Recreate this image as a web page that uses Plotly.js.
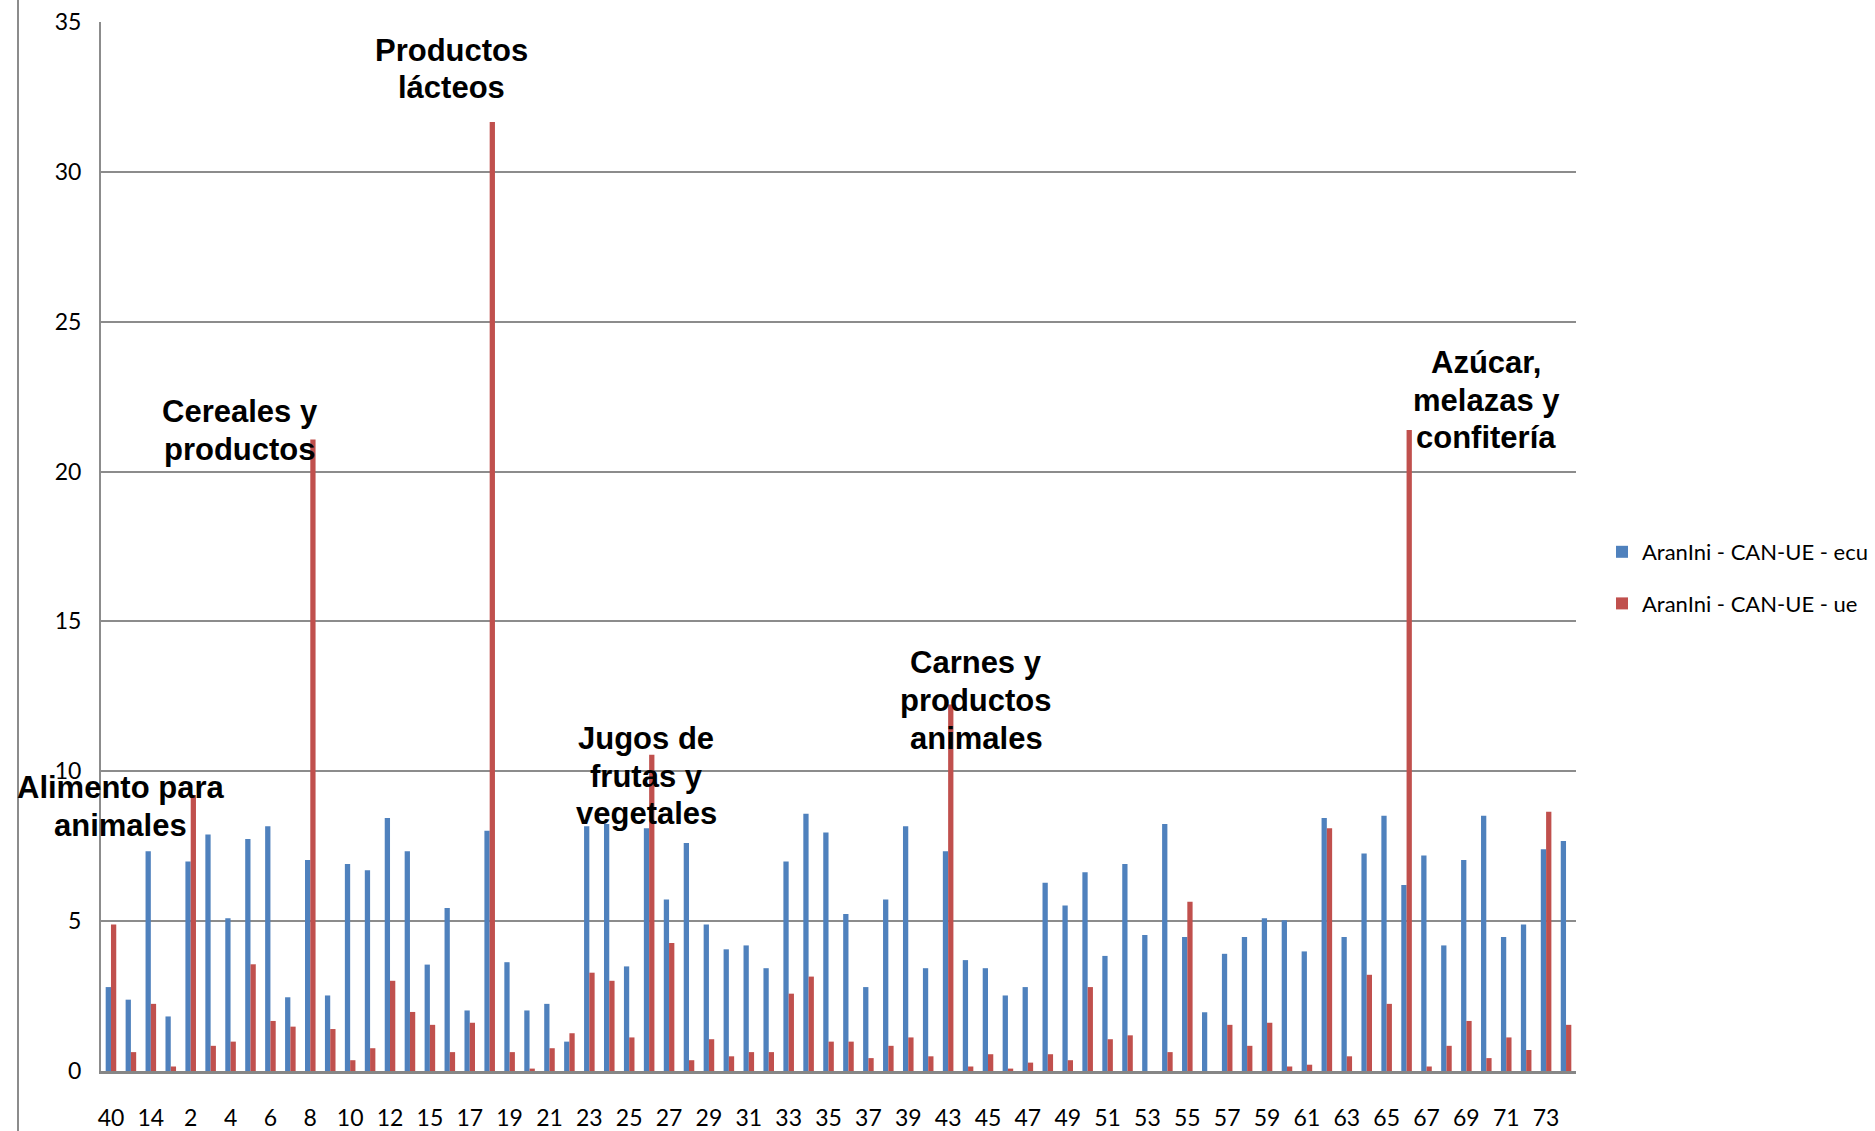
<!DOCTYPE html>
<html>
<head>
<meta charset="utf-8">
<script src="https://cdn.plot.ly/plotly-3.0.1.min.js"></script>
<style>html,body{margin:0;padding:0;background:#fff;}#chart{width:1875px;height:1131px;}</style>
</head>
<body>
<div id="chart"></div>
<script>
// Categories (product codes) in the order shown on the x axis
const categories = ["40","41","14","1","2","3","4","5","6","7","8","9","10","11","12","13","15","16","17","18",
  "19","20","21","22","23","24","25","26","27","28","29","30","31","32","33","34","35","36","37","38",
  "39","42","43","44","45","46","47","48","49","50","51","52","53","54","55","56","57","58","59","60",
  "61","62","63","64","65","66","67","68","69","70","71","72","73","74"];

// Series: AranIni - CAN-UE - ecu
const ecuValues = [2.80,2.38,7.33,1.82,6.99,7.89,5.10,7.74,8.17,2.46,7.04,2.52,6.91,6.70,8.44,7.33,3.55,5.44,2.02,8.02,
  3.63,2.02,2.24,0.98,8.17,8.24,3.49,8.10,5.72,7.61,4.89,4.06,4.19,3.43,6.99,8.58,7.96,5.24,2.80,5.72,
  8.17,3.43,7.33,3.70,3.43,2.52,2.80,6.28,5.52,6.63,3.84,6.91,4.54,8.24,4.47,1.96,3.91,4.47,5.10,5.03,
  3.99,8.44,4.47,7.26,8.52,6.21,7.19,4.19,7.04,8.52,4.47,4.89,7.40,7.67];

// Series: AranIni - CAN-UE - ue
const ueValues = [4.89,0.63,2.24,0.15,9.21,0.84,0.98,3.56,1.67,1.48,21.07,1.40,0.36,0.76,3.01,1.97,1.54,0.63,1.61,31.66,
  0.63,0.08,0.76,1.26,3.28,3.01,1.12,10.55,4.27,0.36,1.06,0.49,0.63,0.63,2.58,3.15,0.98,0.98,0.43,0.84,
  1.12,0.49,12.23,0.15,0.56,0.08,0.28,0.56,0.36,2.80,1.06,1.19,0,0.63,5.65,0,1.54,0.84,1.61,0.15,
  0.21,8.10,0.49,3.21,2.24,21.39,0.15,0.84,1.67,0.43,1.12,0.70,8.65,1.54];

const seriesNames = ["AranIni - CAN-UE - ecu", "AranIni - CAN-UE - ue"];
const seriesColors = ["#4F81BD", "#C0504D"];

// Every other category is labelled on the axis
const tickLabels = categories.filter((c, i) => i % 2 === 0);

const yTicks = [0,5,10,15,20,25,30,35];

// Group labels (text blocks, one entry per line) drawn over the chart
const groupLabels = [
  {lines: ["Productos", "lácteos"], px: 451, py: 50},
  {lines: ["Cereales y", "productos"], px: 240, py: 411},
  {lines: ["Alimento para", "animales"], px: 120, py: 787},
  {lines: ["Jugos de", "frutas y", "vegetales"], px: 646, py: 738},
  {lines: ["Carnes y", "productos", "animales"], px: 976, py: 662},
  {lines: ["Azúcar,", "melazas y", "confitería"], px: 1486, py: 362}
];
const lineStep = 38;

const W = 1875, H = 1131;
const L = 101, R = 299, T = 22, B = 60;
const pw = W - L - R, ph = H - T - B;
const toPX = px => (px - L) / pw;
const toPY = py => (H - B - py) / ph;

const tickFont = {family: "Lato, 'Open Sans', sans-serif", size: 23, color: "#000"};

const traces = [ecuValues, ueValues].map((vals, i) => ({
  type: "bar",
  x: categories,
  y: vals,
  name: seriesNames[i],
  legendgroup: "g" + i,
  marker: {color: seriesColors[i], line: {width: 0}},
  hoverinfo: "x+y+name"
}));

const annotations = [];
groupLabels.forEach(g => {
  g.lines.forEach((t, k) => {
    annotations.push({
      text: "<b>" + t + "</b>",
      xref: "paper", yref: "paper",
      x: toPX(g.px), y: toPY(g.py + k * lineStep),
      xanchor: "center", yanchor: "middle",
      showarrow: false,
      align: "center",
      font: {family: "'Liberation Sans', Arial, sans-serif", size: 31, color: "#000"}
    });
  });
});

const layout = {
  width: W, height: H,
  margin: {l: L, r: R, t: T, b: B, pad: 0, autoexpand: false},
  paper_bgcolor: "#fff",
  plot_bgcolor: "#fff",
  barmode: "group",
  bargap: 0.47,
  bargroupgap: 0,
  showlegend: true,
  legend: {
    x: toPX(1602), xanchor: "left",
    y: toPY(578), yanchor: "middle",
    font: {family: "Lato, 'Open Sans', sans-serif", size: 22, color: "#000"},
    tracegroupgap: 20,
    traceorder: "grouped",
    bgcolor: "rgba(0,0,0,0)"
  },
  xaxis: {
    type: "category",
    categoryorder: "array",
    categoryarray: categories,
    tickmode: "array",
    tickvals: tickLabels,
    ticktext: tickLabels,
    tickfont: tickFont,
    ticks: "",
    ticklabelstandoff: 24,
    showgrid: false,
    showline: true,
    linecolor: "#868686",
    linewidth: 3,
    zeroline: false,
    automargin: false,
    fixedrange: true
  },
  yaxis: {
    range: [0, 35],
    tickmode: "array",
    tickvals: yTicks,
    ticktext: yTicks.map(String),
    tickfont: tickFont,
    ticks: "",
    ticklabelstandoff: 13,
    showgrid: true,
    gridcolor: "#8c8c8c",
    gridwidth: 2,
    showline: true,
    linecolor: "#8c8c8c",
    linewidth: 2,
    zeroline: false,
    automargin: false,
    fixedrange: true
  },
  annotations: annotations,
  shapes: [{
    type: "line", xref: "paper", yref: "paper",
    x0: toPX(18), x1: toPX(18), y0: toPY(0), y1: toPY(H),
    line: {color: "#8c8c8c", width: 2}
  }]
};

Plotly.newPlot("chart", traces, layout, {displayModeBar: false, staticPlot: true});
</script>
</body>
</html>
